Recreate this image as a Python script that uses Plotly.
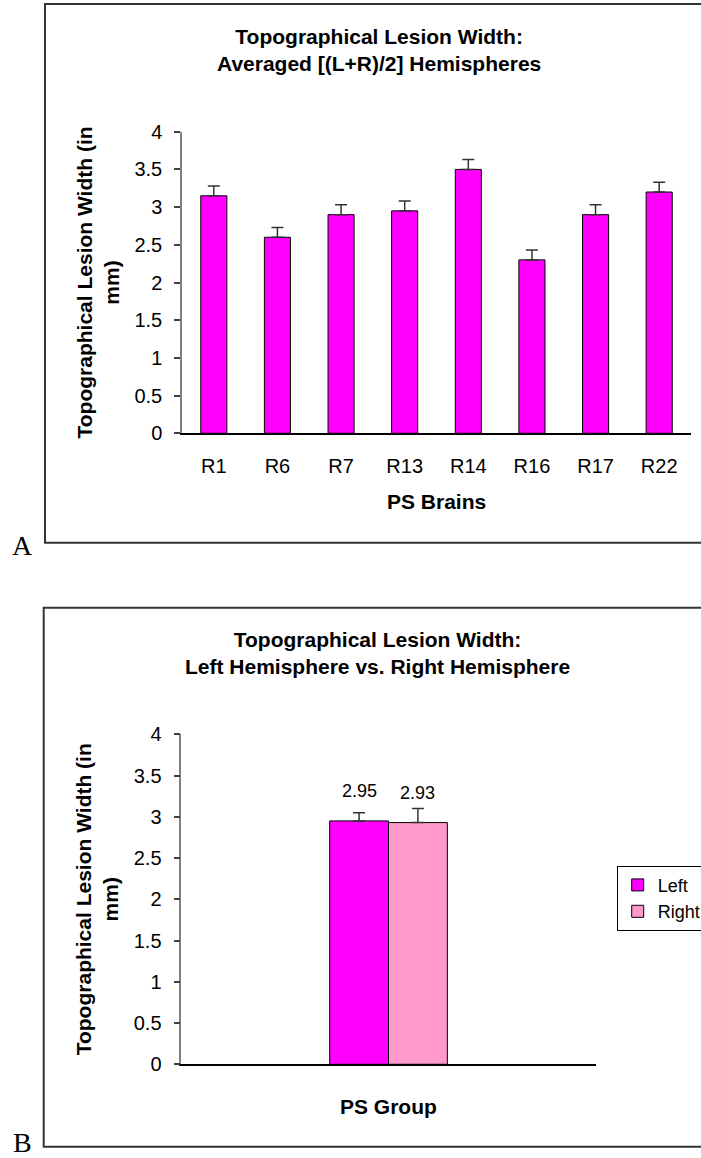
import plotly.graph_objects as go

# Panel A: averaged hemispheres per brain
brains = ["R1", "R6", "R7", "R13", "R14", "R16", "R17", "R22"]
avg_width = [3.15, 2.60, 2.90, 2.95, 3.50, 2.30, 2.90, 3.20]
avg_err = [0.13, 0.13, 0.13, 0.13, 0.13, 0.13, 0.13, 0.13]

# Panel B: left vs right hemisphere, group means
group = ["PS Group"]
left_width = [2.95]
left_err = [0.10]
right_width = [2.93]
right_err = [0.17]

y_ticks = [0, 0.5, 1, 1.5, 2, 2.5, 3, 3.5, 4]
y_ticktext = ["0", "0.5", "1", "1.5", "2", "2.5", "3", "3.5", "4"]

W, H = 701, 1158
FONT = "Liberation Sans, Arial, sans-serif"
MAGENTA = "#FF00FF"
PINK = "#FF99CC"


def px(x):
    return x / W


def py(y):
    return 1 - y / H


fig = go.Figure()

fig.add_trace(go.Bar(
    x=brains, y=avg_width, width=0.41,
    marker=dict(color=MAGENTA, line=dict(color="#000000", width=1)),
    error_y=dict(type="data", array=avg_err, arrayminus=[0] * len(avg_err),
                 symmetric=False, color="#333333", thickness=1.5, width=6),
    xaxis="x", yaxis="y", showlegend=False,
))

BW = 0.142
fig.add_trace(go.Bar(
    x=group, y=left_width, name="Left", width=BW, offset=-BW,
    marker=dict(color=MAGENTA, line=dict(color="#000000", width=1)),
    error_y=dict(type="data", array=left_err, arrayminus=[0],
                 symmetric=False, color="#333333", thickness=1.5, width=6),
    xaxis="x2", yaxis="y2",
))
fig.add_trace(go.Bar(
    x=group, y=right_width, name="Right", width=BW, offset=0,
    marker=dict(color=PINK, line=dict(color="#000000", width=1)),
    error_y=dict(type="data", array=right_err, arrayminus=[0],
                 symmetric=False, color="#333333", thickness=1.5, width=6),
    xaxis="x2", yaxis="y2",
))

yaxis_common = dict(
    range=[0, 4], tickvals=y_ticks, ticktext=y_ticktext,
    showline=True, linecolor="#808080", linewidth=1.5,
    ticks="outside", ticklen=6, tickcolor="#404040", tickwidth=1.5,
    ticklabelstandoff=8, showgrid=False, zeroline=False,
    tickfont=dict(family=FONT, size=20, color="#000000"), fixedrange=True,
)

fig.update_layout(
    width=W, height=H,
    margin=dict(l=0, r=0, t=0, b=0, autoexpand=False),
    paper_bgcolor="white", plot_bgcolor="white",
    barmode="group",
    xaxis=dict(domain=[px(182), px(691)], anchor="y",
               showline=True, linecolor="#000000", linewidth=1.5,
               ticks="", ticklabelstandoff=14, showgrid=False,
               tickfont=dict(family=FONT, size=20, color="#000000")),
    yaxis=dict(domain=[py(433.3), py(131.7)], anchor="x", **yaxis_common),
    xaxis2=dict(domain=[px(181.3), px(595.7)], anchor="y2", range=[-0.5, 0.5],
                showline=True, linecolor="#000000", linewidth=1.5,
                ticks="", showticklabels=False, showgrid=False),
    yaxis2=dict(domain=[py(1064.3), py(734.3)], anchor="x2", **yaxis_common),
    legend=dict(x=px(616.7), y=py(865.7), xanchor="left", yanchor="top",
                bordercolor="#000000", borderwidth=1, bgcolor="white",
                font=dict(family=FONT, size=18, color="#000000"),
                tracegroupgap=0),
    font=dict(family=FONT, color="#000000"),
)

# Chart frames (right edge runs past the page)
for x0, y0, y1 in [(45, 4, 542.7), (43.7, 607.7, 1146.7)]:
    fig.add_shape(type="rect", xref="paper", yref="paper",
                  x0=px(x0), x1=px(720), y0=py(y1), y1=py(y0),
                  line=dict(color="#333333", width=2), layer="below")

bold = dict(family="Liberation Sans, Arial, sans-serif", size=21, color="#000000")
ann = []
ann.append(dict(text="<b>Topographical Lesion Width:<br>Averaged [(L+R)/2] Hemispheres</b>",
                x=px(378.7), y=py(49.5), font=bold))
ann.append(dict(text="<b>Topographical Lesion Width:<br>Left Hemisphere vs. Right Hemisphere</b>",
                x=px(377.5), y=py(652.5), font=bold))
ann.append(dict(text="<b>PS Brains</b>", x=px(436.5), y=py(501.5), font=bold))
ann.append(dict(text="<b>PS Group</b>", x=px(388), y=py(1106), font=bold))
ann.append(dict(text="<b>Topographical Lesion Width (in<br>mm)</b>", textangle=-90,
                x=px(97), y=py(282.5), font=bold))
ann.append(dict(text="<b>Topographical Lesion Width (in<br>mm)</b>", textangle=-90,
                x=px(97), y=py(899.3), font=bold))
serif = dict(family="Liberation Serif, Times New Roman, serif", size=28, color="#000000")
ann.append(dict(text="A", x=px(22.5), y=py(545), font=serif))
ann.append(dict(text="B", x=px(22.5), y=py(1142), font=serif))
for a in ann:
    a.update(xref="paper", yref="paper", xanchor="center", yanchor="middle",
             showarrow=False)
    fig.add_annotation(**a)

# Value labels above the panel B bars
for xc, val in [(-BW / 2, left_width[0]), (BW / 2, right_width[0])]:
    fig.add_annotation(x=xc, y=val, xref="x2", yref="y2", text=f"{val:.2f}",
                       showarrow=False, yanchor="middle", yshift=30,
                       font=dict(family=FONT, size=18, color="#000000"))

fig.write_html("out.html")
